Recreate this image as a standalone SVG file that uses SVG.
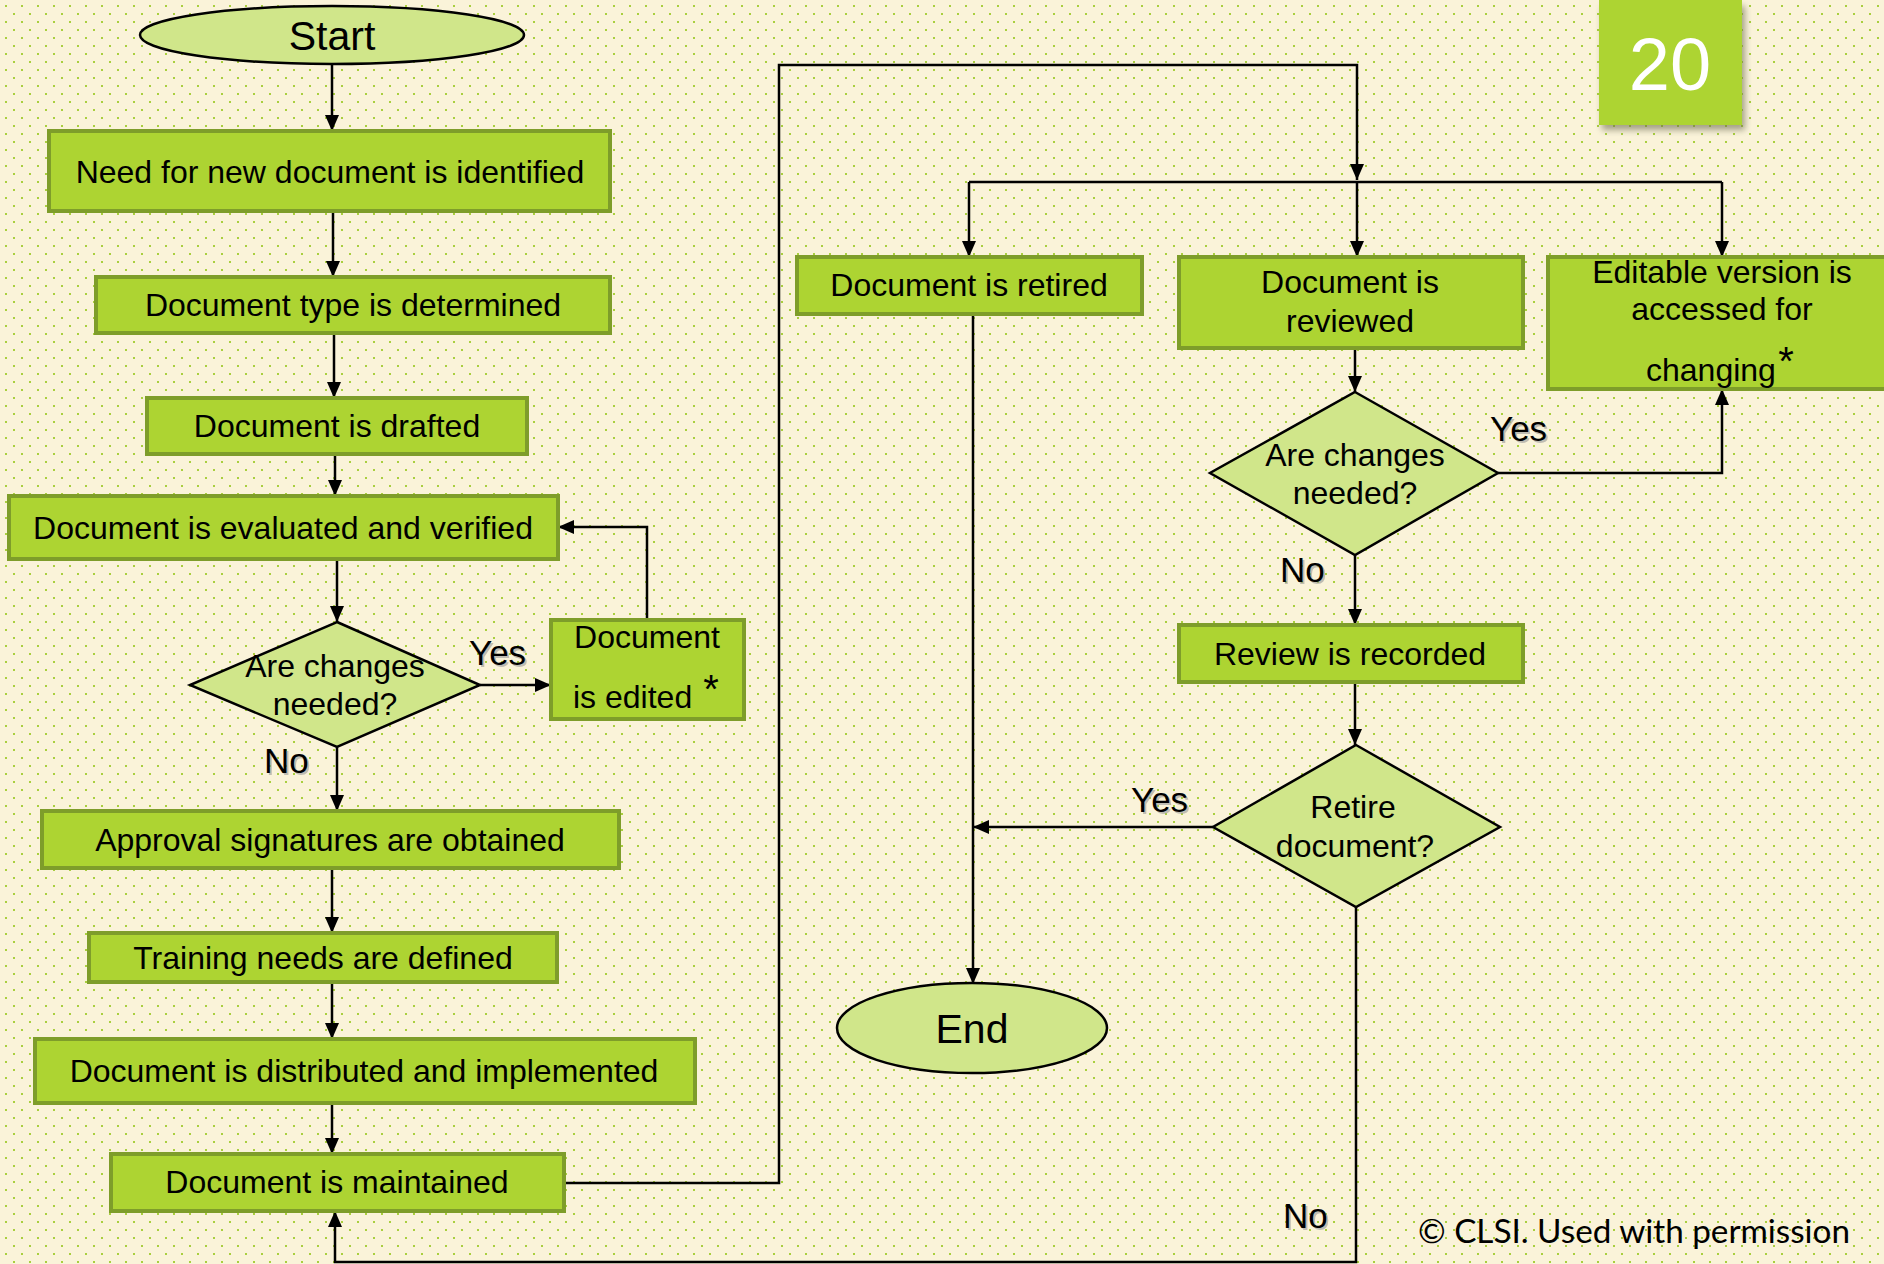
<svg xmlns="http://www.w3.org/2000/svg" width="1884" height="1264" viewBox="0 0 1884 1264">
<defs>
  <pattern id="dots" patternUnits="userSpaceOnUse" width="16" height="16">
    <rect x="5" y="5" width="2" height="2" fill="#A9CF3E"/>
    <rect x="13" y="13" width="2" height="2" fill="#A9CF3E"/>
  </pattern>
  <marker id="arr" markerUnits="userSpaceOnUse" viewBox="0 0 16 14" markerWidth="16" markerHeight="14" refX="16" refY="7" orient="auto">
    <path d="M0,0 L16,7 L0,14 z" fill="#000"/>
  </marker>
  <filter id="shadow" x="-20%" y="-20%" width="140%" height="150%">
    <feGaussianBlur stdDeviation="3"/>
  </filter>
  <style>
    .box { fill: #ADD432; stroke: #7E9D2A; stroke-width: 4; }
    .dia { fill: #D0E68A; stroke: #000; stroke-width: 2.5; }
    .ell { fill: #D0E68A; stroke: #000; stroke-width: 2.5; }
    .t { font-family: "Liberation Sans", Arial, sans-serif; font-size: 32px; fill: #000; text-anchor: middle; }
    .ts { font-family: "Liberation Sans", Arial, sans-serif; font-size: 32px; fill: #000; }
    .ast { font-family: "Liberation Sans", Arial, sans-serif; font-size: 40px; fill: #000; text-anchor: middle; }
    .lbl { font-family: "Liberation Sans", Arial, sans-serif; font-size: 35px; fill: #000; }
    .lbls { font-family: "Liberation Sans", Arial, sans-serif; font-size: 35px; fill: #999; opacity: 0.6; }
    .big { font-family: "Liberation Sans", Arial, sans-serif; font-size: 41px; fill: #000; text-anchor: middle; }
    .c { fill: none; stroke: #000; stroke-width: 2.5; }
    .ca { fill: none; stroke: #000; stroke-width: 2.5; marker-end: url(#arr); }
  </style>
</defs>
<rect x="0" y="0" width="1884" height="1264" fill="#FAF3D9"/>
<rect x="0" y="0" width="1884" height="1264" fill="url(#dots)"/>

<g id="connectors">
  <path class="ca" d="M332,65 V131"/>
  <path class="ca" d="M333,211 V277"/>
  <path class="ca" d="M334,333 V398"/>
  <path class="ca" d="M335,454 V496"/>
  <path class="ca" d="M337,559 V622"/>
  <path class="ca" d="M480,685 H551"/>
  <path class="ca" d="M647,620 V527 H558"/>
  <path class="ca" d="M337,747 V811"/>
  <path class="ca" d="M332,868 V933"/>
  <path class="ca" d="M332,982 V1039"/>
  <path class="ca" d="M332,1103 V1154"/>
  <path class="ca" d="M564,1183 H779 V65 H1357 V180"/>
  <path class="c" d="M969,182 H1722"/>
  <path class="ca" d="M969,182 V257"/>
  <path class="ca" d="M1357,182 V257"/>
  <path class="ca" d="M1722,182 V257"/>
  <path class="ca" d="M973,314 V984"/>
  <path class="ca" d="M1355,348 V392"/>
  <path class="ca" d="M1498,473 H1722 V389"/>
  <path class="ca" d="M1355,555 V625"/>
  <path class="ca" d="M1355,682 V745"/>
  <path class="ca" d="M1213,827 H973"/>
  <path class="ca" d="M1356,907 V1262 H335 V1211"/>
</g>

<g id="start">
  <ellipse class="ell" cx="332" cy="35" rx="192" ry="29"/>
  <text class="big" x="332" y="50">Start</text>
</g>
<g id="need">
  <rect class="box" x="49" y="131" width="561" height="80"/>
  <text class="t" x="330" y="183">Need for new document is identified</text>
</g>
<g id="doctype">
  <rect class="box" x="96" y="277" width="514" height="56"/>
  <text class="t" x="353" y="316">Document type is determined</text>
</g>
<g id="drafted">
  <rect class="box" x="147" y="398" width="380" height="56"/>
  <text class="t" x="337" y="437">Document is drafted</text>
</g>
<g id="evaluated">
  <rect class="box" x="9" y="496" width="549" height="63"/>
  <text class="t" x="283" y="539">Document is evaluated and verified</text>
</g>
<g id="changes1">
  <polygon class="dia" points="337,622 480,685 337,747 190,685"/>
  <text class="t" x="335" y="677">Are changes</text>
  <text class="t" x="335" y="715">needed?</text>
</g>
<g id="edited">
  <rect class="box" x="551" y="620" width="193" height="99"/>
  <text class="t" x="647" y="648">Document</text>
  <text class="ts" x="573" y="708">is edited</text>
  <text class="ast" x="711" y="703">*</text>
</g>
<g id="approval">
  <rect class="box" x="42" y="811" width="577" height="57"/>
  <text class="t" x="330" y="851">Approval signatures are obtained</text>
</g>
<g id="training">
  <rect class="box" x="89" y="933" width="468" height="49"/>
  <text class="t" x="323" y="969">Training needs are defined</text>
</g>
<g id="distributed">
  <rect class="box" x="35" y="1039" width="660" height="64"/>
  <text class="t" x="364" y="1082">Document is distributed and implemented</text>
</g>
<g id="maintained">
  <rect class="box" x="111" y="1154" width="453" height="57"/>
  <text class="t" x="337" y="1193">Document is maintained</text>
</g>
<g id="retired">
  <rect class="box" x="797" y="257" width="345" height="57"/>
  <text class="t" x="969" y="296">Document is retired</text>
</g>
<g id="reviewed">
  <rect class="box" x="1179" y="257" width="344" height="91"/>
  <text class="t" x="1350" y="293">Document is</text>
  <text class="t" x="1350" y="332">reviewed</text>
</g>
<g id="editable">
  <rect class="box" x="1548" y="257" width="345" height="132"/>
  <text class="t" x="1722" y="283">Editable version is</text>
  <text class="t" x="1722" y="320">accessed for</text>
  <text class="ts" x="1646" y="381">changing</text>
  <text class="ast" x="1786" y="375">*</text>
</g>
<g id="changes2">
  <polygon class="dia" points="1355,392 1498,473 1355,555 1210,473"/>
  <text class="t" x="1355" y="466">Are changes</text>
  <text class="t" x="1355" y="504">needed?</text>
</g>
<g id="recorded">
  <rect class="box" x="1179" y="625" width="344" height="57"/>
  <text class="t" x="1350" y="665">Review is recorded</text>
</g>
<g id="retire">
  <polygon class="dia" points="1356,745 1500,827 1356,907 1213,827"/>
  <text class="t" x="1353" y="818">Retire</text>
  <text class="t" x="1355" y="857">document?</text>
</g>
<g id="end">
  <ellipse class="ell" cx="972" cy="1028" rx="135" ry="45"/>
  <text class="big" x="972" y="1043">End</text>
</g>
<g id="page">
  <rect x="1602" y="6" width="143" height="124" fill="#6b6b50" opacity="0.6" filter="url(#shadow)"/>
  <rect x="1599" y="0" width="143" height="125" fill="#ADD432"/>
  <text x="1670" y="90" font-family="Liberation Sans, Arial, sans-serif" font-size="74" fill="#fff" text-anchor="middle">20</text>
</g>
<g id="labels">
  <text class="lbls" x="471" y="667">Yes</text>
  <text class="lbl" x="469" y="665">Yes</text>
  <text class="lbls" x="266" y="775">No</text>
  <text class="lbl" x="264" y="773">No</text>
  <text class="lbls" x="1492" y="443">Yes</text>
  <text class="lbl" x="1490" y="441">Yes</text>
  <text class="lbls" x="1282" y="584">No</text>
  <text class="lbl" x="1280" y="582">No</text>
  <text class="lbls" x="1133" y="814">Yes</text>
  <text class="lbl" x="1131" y="812">Yes</text>
  <text class="lbls" x="1285" y="1230">No</text>
  <text class="lbl" x="1283" y="1228">No</text>
  <text x="1418" y="1243" font-family="Lato, 'Open Sans', sans-serif" font-size="32" fill="#000" textLength="432" lengthAdjust="spacingAndGlyphs">© CLSI. Used with permission</text>
</g>
</svg>
